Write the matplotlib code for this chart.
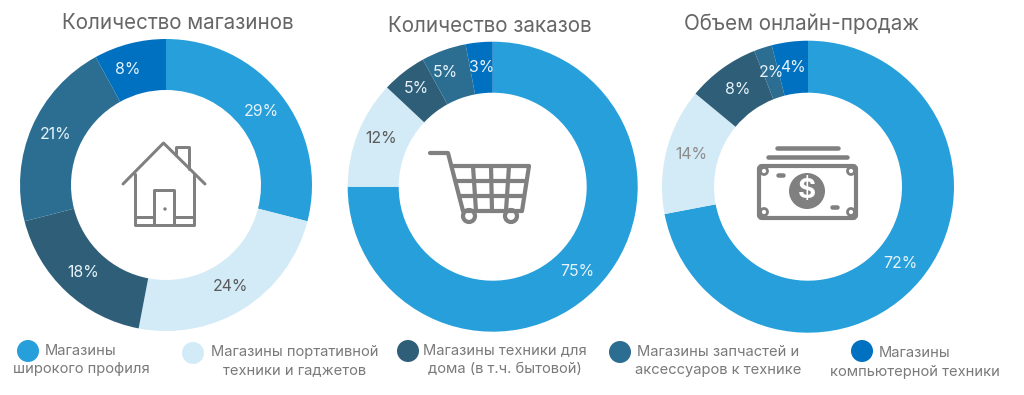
import matplotlib
matplotlib.use("Agg")
import matplotlib.pyplot as plt
from matplotlib.patches import Circle, FancyBboxPatch

plt.rcParams['font.family'] = ['Inter', 'Lato', 'DejaVu Sans']

W, H = 1024, 395
stores = [29, 24, 18, 21, 8]
orders = [75, 12, 5, 5, 3]
sales = [72, 14, 8, 2, 4]
titles = ["Количество магазинов", "Количество заказов", "Объем онлайн-продаж"]
categories = ["Магазины\nширокого профиля",
              "Магазины портативной\nтехники и гаджетов",
              "Магазины техники для\nдома (в т.ч. бытовой)",
              "Магазины запчастей и\nаксессуаров к технике",
              "Магазины\nкомпьютерной техники"]

colors = ["#269FDB", "#D3EAF7", "#2E5E78", "#2C6E92", "#0070C0"]
GRAY = "#808080"
TXT = "#7A7A7A"
LABEL_LIGHT = "#E6F3FA"

fig = plt.figure(figsize=(W / 100, H / 100), dpi=100, facecolor="white")


def donut(values, cx, cy, R, r, label_colors, nudges):
    pad = 1.02
    size = 2 * R * pad
    ax = fig.add_axes([(cx - size / 2) / W, 1 - (cy + size / 2) / H, size / W, size / H])
    wedges, _, autos = ax.pie(values, startangle=90, counterclock=False, colors=colors,
                              radius=1, wedgeprops=dict(width=1 - r / R, linewidth=0),
                              autopct=lambda p: f"{p:.0f}%", pctdistance=(R + r) / 2 / R,
                              textprops=dict(fontsize=11.4))
    ax.set_xlim(-pad, pad)
    ax.set_ylim(-pad, pad)
    for i, t in enumerate(autos):
        t.set_color(label_colors[i])
        dx, dy = nudges.get(i, (0, 0))
        x, y = t.get_position()
        t.set_position((x + dx / R, y - dy / R))
    return ax


L, D, G = LABEL_LIGHT, "#5A5A5A", "#8C8C8C"
donut(stores, 166, 185, 146, 95, [L, D, L, L, L], {4: (-8, 1), 3: (0, -3)})
donut(orders, 492.7, 186.7, 145, 94, [L, D, L, L, L], {1: (0, -4), 2: (-3, -4), 3: (-7, -2)})
donut(sales, 808, 186.7, 146, 94, [L, G, L, L, L], {1: (0, -2)})

# overlay in pixel coordinates for titles, legend and icons
ov = fig.add_axes([0, 0, 1, 1], facecolor="none")
ov.set_xlim(0, W)
ov.set_ylim(H, 0)
ov.axis("off")

for title, x, y in zip(titles, (178, 490, 802), (23, 26, 24)):
    ov.text(x, y, title, ha="center", va="center", fontsize=14.85, color="#666666")

swatches = [(28, 351), (193, 353), (408, 351), (620, 352), (862, 351)]
text_pos = [(81, 351, 369), (295, 352, 370), (505, 350, 369), (718, 352, 370), (915, 353, 372)]
for col, (sx, sy) in zip(colors, swatches):
    ov.add_patch(Circle((sx, sy), 11, fc=col, ec="none"))
for cat, (x, y1, y2) in zip(categories, text_pos):
    a, b = cat.split("\n")
    ov.text(x, y1, a, ha="center", va="center", fontsize=10.6, color=TXT)
    ov.text(x, y2, b, ha="center", va="center", fontsize=10.6, color=TXT)


def line(pts, lw=3.0):
    xs, ys = zip(*pts)
    ov.plot(xs, ys, color=GRAY, lw=lw * 0.72, solid_capstyle="round", solid_joinstyle="round")


# house icon
line([(123, 184), (163.5, 143), (205, 184)])
line([(134.5, 174), (134.5, 225), (193.5, 225), (193.5, 174)])
line([(176, 155), (176, 147), (189, 147), (189, 169)])
line([(153.5, 224), (153.5, 190), (174, 190), (174, 224)])
line([(134.5, 217), (153.5, 217)])
line([(174, 217), (193.5, 217)])
ov.add_patch(Circle((165, 209), 1.7, fc=GRAY, ec="none"))

# cart icon
line([(430, 153), (448, 153), (463, 211)], 4.2)
line([(453, 166), (529, 166), (522, 211), (463, 211)], 4.2)
line([(457, 181), (526, 181)], 4.2)
line([(460, 196), (524, 196)], 4.2)
line([(473, 166), (476, 211)], 4.2)
line([(491, 166), (492, 211)], 4.2)
line([(509, 166), (506, 211)], 4.2)
for wx in (469, 511):
    ov.add_patch(Circle((wx, 216), 6, fc="white", ec=GRAY, lw=3.0))

# money icon
line([(777, 148), (838, 148)], 4.5)
line([(768, 157), (847, 157)], 4.5)
ov.add_patch(FancyBboxPatch((759, 166), 97, 52, boxstyle="round,pad=0,rounding_size=3",
                            fc="white", ec=GRAY, lw=3.0))
ov.add_patch(Circle((807, 191), 18, fc=GRAY, ec="none"))
ov.text(807, 191, "$", ha="center", va="center", color="white", fontsize=20, fontweight="bold")
for cx_, cy_ in [(764, 171), (851, 171), (764, 212), (851, 212)]:
    ov.add_patch(Circle((cx_, cy_), 3.5, fc="white", ec=GRAY, lw=2.0))
line([(778, 175), (783, 175)], 4.5)
line([(832, 207), (837, 207)], 4.5)

fig.savefig("out.png", dpi=100)
